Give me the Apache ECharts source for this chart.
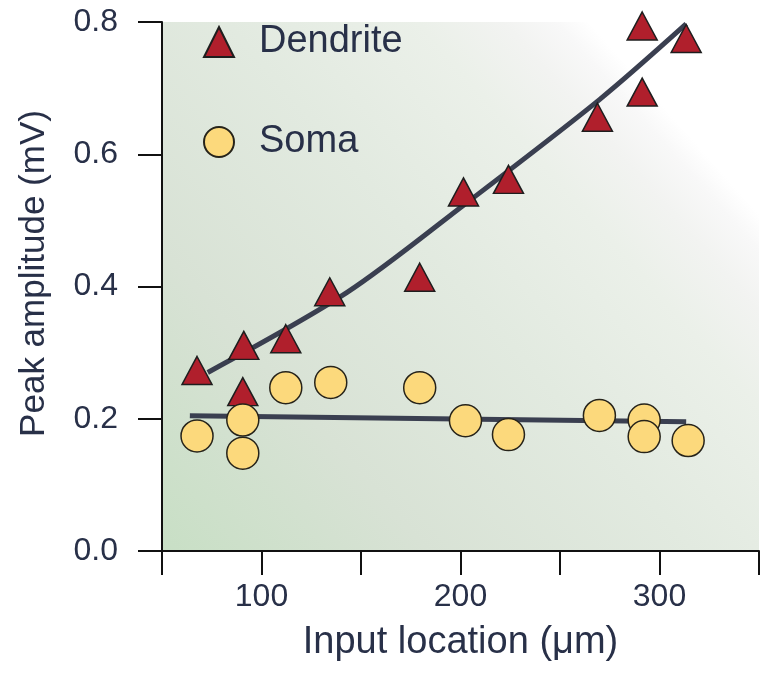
<!DOCTYPE html>
<html>
<head>
<meta charset="utf-8">
<script src="https://cdn.jsdelivr.net/npm/echarts@6/dist/echarts.min.js"></script>
<style>
html,body{margin:0;padding:0;background:#ffffff;}
#chart{width:775px;height:674px;}
</style>
</head>
<body>
<div id="chart"></div>
<script>
// ---- data ----
var seriesNames = ['Dendrite', 'Soma'];

var dendriteX = [67.6, 91.1, 90.6, 112.2, 134.3, 179.5, 201.5, 224.1, 268.8, 291.3, 291.3, 313.4];
var dendriteY = [0.273, 0.311, 0.241, 0.321, 0.392, 0.414, 0.543, 0.562, 0.656, 0.694, 0.794, 0.775];

var somaX = [67.6, 90.6, 90.6, 112.2, 134.8, 179.5, 202.5, 224.1, 269.8, 292.3, 292.3, 314.4];
var somaY = [0.174, 0.198, 0.148, 0.247, 0.255, 0.247, 0.197, 0.176, 0.205, 0.198, 0.173, 0.167];

// fitted curves as drawn in the reference
var dendriteFitX = [73, 143, 202, 270, 313.4];
var dendriteFitY = [0.270, 0.391, 0.524, 0.683, 0.797];
var somaFitX = [64, 313.4];
var somaFitY = [0.2045, 0.1955];

var xTicks = [100, 200, 300];
var yTicks = [0.0, 0.2, 0.4, 0.6, 0.8];

function zip(xs, ys) { return xs.map(function (x, i) { return [x, ys[i]]; }); }

var FONT = '"Liberation Sans", Arial, Helvetica, sans-serif';
var TXT = '#283048';

var chart = echarts.init(document.getElementById('chart'), null, {renderer: 'canvas'});
chart.setOption({
  animation: false,
  backgroundColor: '#ffffff',
  grid: {
    left: 162, right: 16, top: 22, bottom: 123,
    show: true, borderWidth: 0,
    backgroundColor: new echarts.graphic.LinearGradient(0, 1, 1, 0, [
      {offset: 0, color: '#c8dfc5'},
      {offset: 0.25, color: '#d8e2d5'},
      {offset: 0.5, color: '#e2eae0'},
      {offset: 0.68, color: '#ebf0e9'},
      {offset: 0.76, color: '#f2f3f1'},
      {offset: 0.81, color: '#f8f8f8'},
      {offset: 0.84, color: '#ffffff'},
      {offset: 1, color: '#ffffff'}
    ])
  },
  legend: {
    data: seriesNames,
    orient: 'vertical',
    left: 203, top: 23, padding: 0,
    itemWidth: 30, itemHeight: 30, itemGap: 62,
    textStyle: {fontFamily: FONT, fontSize: 38, color: TXT, padding: [0, 0, 0, 20]},
    selectedMode: false
  },
  xAxis: {
    type: 'value', min: 50, max: 350, interval: 50,
    name: 'Input location (\u03bcm)', nameLocation: 'middle', nameGap: 73,
    nameTextStyle: {fontFamily: FONT, fontSize: 38, color: TXT},
    axisLine: {show: true, onZero: false, lineStyle: {color: '#111', width: 2}},
    axisTick: {show: true, inside: false, length: 24, lineStyle: {color: '#111', width: 2}},
    axisLabel: {
      margin: 30, fontFamily: FONT, fontSize: 32, color: TXT,
      formatter: function (v) { return xTicks.indexOf(v) >= 0 ? String(v) : ''; }
    },
    splitLine: {show: false}
  },
  yAxis: {
    type: 'value', min: 0, max: 0.8, interval: 0.2,
    name: 'Peak amplitude (mV)', nameLocation: 'middle', nameGap: 110,
    nameTextStyle: {fontFamily: FONT, fontSize: 35, color: TXT, padding: [0, 0, 0, 26]},
    axisLine: {show: true, onZero: false, lineStyle: {color: '#111', width: 2}},
    axisTick: {show: true, inside: false, length: 24, lineStyle: {color: '#111', width: 2}},
    axisLabel: {
      margin: 44, fontFamily: FONT, fontSize: 32, color: TXT,
      formatter: function (v) {
        var t = yTicks.filter(function (y) { return Math.abs(y - v) < 1e-9; });
        return t.length ? t[0].toFixed(1) : '';
      }
    },
    splitLine: {show: false}
  },
  series: [
    {
      name: 'Dendrite fit', type: 'line', data: zip(dendriteFitX, dendriteFitY),
      smooth: 0.3, showSymbol: false, symbol: 'none', z: 2,
      lineStyle: {color: '#3a3f50', width: 5}
    },
    {
      name: 'Soma fit', type: 'line', data: zip(somaFitX, somaFitY),
      showSymbol: false, symbol: 'none', z: 2,
      lineStyle: {color: '#3a3f50', width: 5}
    },
    {
      name: 'Dendrite', type: 'scatter', data: zip(dendriteX, dendriteY),
      symbol: 'triangle', symbolSize: [30, 28], z: 3,
      itemStyle: {color: '#b01f2c', borderColor: '#1e1e1e', borderWidth: 1.5, opacity: 1}
    },
    {
      name: 'Soma', type: 'scatter', data: zip(somaX, somaY),
      symbol: 'circle', symbolSize: 32, z: 4,
      itemStyle: {color: '#fcd97c', borderColor: '#26231a', borderWidth: 1.5, opacity: 1}
    }
  ]
});
</script>
</body>
</html>
